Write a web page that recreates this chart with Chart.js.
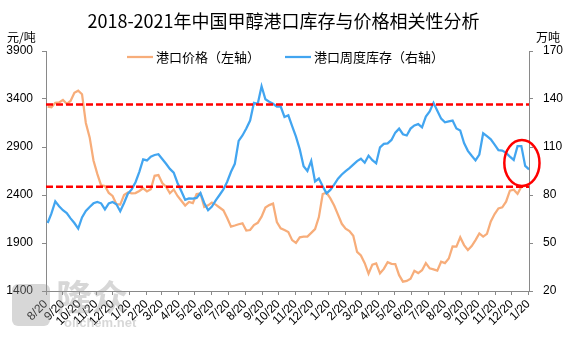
<!DOCTYPE html>
<html>
<head>
<meta charset="utf-8">
<script src="https://cdn.jsdelivr.net/npm/chart.js@4.4.1/dist/chart.umd.min.js"></script>
<style>
  html, body { margin: 0; padding: 0; background: #fff; }
  #wrap { width: 567px; height: 340px; }
</style>
</head>
<body>
<div id="wrap"><canvas id="chart" width="567" height="340"></canvas></div>
<script>
// x tick labels (month/day, every month from 2018-08-20 to 2021-01-20)
const monthLabels = [
  "8/20", "9/20", "10/20", "11/20", "12/20",
  "1/20", "2/20", "3/20", "4/20", "5/20", "6/20", "7/20", "8/20", "9/20", "10/20", "11/20", "12/20",
  "1/20", "2/20", "3/20", "4/20", "5/20", "6/20", "7/20", "8/20", "9/20", "10/20", "11/20", "12/20",
  "1/20"
];

// 港口价格 (元/吨), weekly
const priceValues = [
  3320, 3314, 3360, 3365, 3390, 3350, 3380, 3465, 3487, 3450,
  3150, 3000, 2760, 2620, 2500, 2494, 2422, 2390, 2305, 2300,
  2400, 2426, 2418, 2420, 2442, 2470, 2437, 2459, 2600, 2608,
  2525, 2487, 2418, 2457, 2390, 2340, 2290, 2328, 2315, 2410,
  2415, 2275, 2292, 2320, 2300, 2270, 2240, 2160, 2070, 2082,
  2095, 2105, 2030, 2035, 2087, 2110, 2174, 2270, 2295, 2310,
  2118, 2053, 2035, 2015, 1930, 1900, 1959, 1966, 1966, 2005,
  2045, 2170, 2410, 2425, 2365, 2290, 2195, 2100, 2050, 2025,
  1975, 1807, 1770, 1690, 1580, 1675, 1688, 1584, 1630, 1700,
  1683, 1681, 1565, 1497, 1505, 1527, 1610, 1587, 1617, 1690,
  1636, 1625, 1612, 1705, 1690, 1738, 1865, 1862, 1960, 1878,
  1827, 1868, 1930, 2000, 1966, 1995, 2125, 2202, 2260, 2272,
  2330, 2445, 2455, 2412, 2487, 2494, 2515
];

// 港口周度库存 (万吨), weekly
const stockValues = [
  62.5, 68.5, 76, 73, 70.5, 68.7, 65.4, 62.5, 59, 66,
  70, 72.5, 74.8, 75.7, 74.8, 71, 74.7, 75.6, 74.2, 69.8,
  75, 80.8, 83.5, 88, 94.5, 102.3, 101.6, 104, 105, 105.5,
  102.5, 99.5, 96.3, 94, 87.5, 82.3, 77, 77.9, 77.8, 78.2,
  81.2, 75, 70.5, 72.8, 76.6, 80, 83.5, 88.3, 94.5, 99.5,
  113.8, 117.2, 121.5, 126.5, 137.6, 137, 148, 139.8, 138.3, 137,
  135.2, 135.3, 128.8, 129.8, 123, 116.5, 108.5, 98, 95, 101.3,
  88.5, 90.3, 85.5, 81, 83.2, 86.5, 90.2, 92.8, 94.9, 96.8,
  99, 101.2, 102.7, 100.2, 104.6, 101.8, 99.8, 109.8, 112, 112.3,
  114.4, 119, 121.5, 118, 117.2, 121.5, 123.5, 124.3, 122.3, 129,
  132.2, 137.6, 132.6, 127.7, 125.4, 126, 126.5, 121.6, 120.3, 112.5,
  107.6, 104.5, 101.6, 105.3, 118.6, 116.8, 114.8, 111.5, 108, 107.8,
  106.3, 104, 101.9, 110.5, 110.6, 98.2, 96
];

// reference levels (万吨, right axis) and highlighted spot
const upperLevel = 136.5;
const lowerLevel = 85.2;
const circleDay = 872;
const circleLevel = 100;

// days since 2018-08-20; weekly data starts on 2018-08-23
const startDate = Date.UTC(2018, 7, 20);
const dayOf = (y, m, d) => (Date.UTC(y, m, d) - startDate) / 86400000;
const monthTicks = monthLabels.map((_, k) => dayOf(2018, 7 + k, 20));
const weekDays = priceValues.map((_, i) => 3 + 7 * i);
const xMax = 885;

const FONT = '"Liberation Sans", Arial, "Noto Sans CJK SC", sans-serif';
const CJK = '"Noto Sans CJK SC", "Liberation Sans", sans-serif';
const ORANGE = "#F7AD7A";
const BLUE = "#42A5F0";
const RED = "#FF0000";
const AXIS = "#898989";

const decor = {
  id: "decor",
  afterDraw(chart) {
    const { ctx, scales } = chart;
    ctx.save();

    // unit labels
    ctx.fillStyle = "#000";
    ctx.font = "12px " + CJK;
    ctx.textBaseline = "middle";
    ctx.textAlign = "left";
    ctx.fillText("元/吨", 7, 37);
    ctx.fillText("万吨", 536, 37);

    // legend inside the plot
    const items = [
      { ds: chart.data.datasets[0], x: 127 },
      { ds: chart.data.datasets[1], x: 285 }
    ];
    ctx.font = "13px " + CJK;
    items.forEach(it => {
      ctx.strokeStyle = it.ds.borderColor;
      ctx.lineWidth = 2.25;
      ctx.beginPath();
      ctx.moveTo(it.x, 57);
      ctx.lineTo(it.x + 26, 57);
      ctx.stroke();
      ctx.fillText(it.ds.label, it.x + 29, 57);
    });

    // red circle around the latest stock move
    const cx = scales.x.getPixelForValue(circleDay);
    const cy = scales.y1.getPixelForValue(circleLevel);
    ctx.strokeStyle = RED;
    ctx.lineWidth = 2.5;
    ctx.beginPath();
    ctx.ellipse(cx, cy, 17.6, 23, 0, 0, 2 * Math.PI);
    ctx.stroke();

    // watermark
    ctx.fillStyle = "rgba(150,150,150,0.38)";
    ctx.font = "bold 36px " + CJK;
    ctx.textBaseline = "alphabetic";
    ctx.fillText("隆众", 56, 311);
    ctx.font = "bold 13px " + FONT;
    ctx.fillText("oilchem.net", 64, 327);
    ctx.beginPath();
    ctx.roundRect(12, 284, 38, 42, 6);
    ctx.fill();

    ctx.restore();
  }
};

new Chart(document.getElementById("chart"), {
  type: "line",
  data: {
    datasets: [
      {
        label: "港口价格（左轴）",
        data: weekDays.map((d, i) => ({ x: d, y: priceValues[i] })),
        yAxisID: "y",
        borderColor: ORANGE,
        borderWidth: 2.25,
        pointRadius: 0,
        tension: 0,
        order: 3
      },
      {
        label: "港口周度库存（右轴）",
        data: weekDays.map((d, i) => ({ x: d, y: stockValues[i] })),
        yAxisID: "y1",
        borderColor: BLUE,
        borderWidth: 2.25,
        pointRadius: 0,
        tension: 0,
        order: 2
      },
      {
        label: "upper",
        data: [{ x: 0, y: upperLevel }, { x: xMax, y: upperLevel }],
        yAxisID: "y1",
        borderColor: RED,
        borderWidth: 2.5,
        borderDash: [7, 3],
        pointRadius: 0,
        order: 1
      },
      {
        label: "lower",
        data: [{ x: 0, y: lowerLevel }, { x: xMax, y: lowerLevel }],
        yAxisID: "y1",
        borderColor: RED,
        borderWidth: 2.5,
        borderDash: [7, 3],
        pointRadius: 0,
        order: 1
      }
    ]
  },
  options: {
    responsive: false,
    animation: false,
    devicePixelRatio: 1,
    layout: { padding: 0 },
    plugins: {
      legend: { display: false },
      tooltip: { enabled: false },
      title: {
        display: true,
        text: "2018-2021年中国甲醇港口库存与价格相关性分析",
        color: "#000",
        font: { size: 18, weight: "normal", family: CJK },
        padding: { top: 10, bottom: 19.4 }
      }
    },
    scales: {
      x: {
        type: "linear",
        min: 0,
        max: xMax,
        afterBuildTicks: s => { s.ticks = monthTicks.map(v => ({ value: v })); },
        afterFit: s => { s.height = 49; },
        ticks: {
          autoSkip: false,
          minRotation: 45,
          maxRotation: 45,
          padding: 2,
          color: "#000",
          font: { size: 12, family: FONT },
          callback: (v, i) => monthLabels[i]
        },
        grid: { drawOnChartArea: false, tickLength: 4, color: AXIS },
        border: { color: AXIS }
      },
      y: {
        position: "left",
        min: 1400,
        max: 3900,
        afterFit: s => { s.width = 46; },
        ticks: {
          stepSize: 500, padding: 9, color: "#000",
          font: { size: 12, family: FONT },
          callback: v => String(v)
        },
        grid: { drawOnChartArea: false, tickLength: 4, color: AXIS },
        border: { color: AXIS }
      },
      y1: {
        position: "right",
        min: 20,
        max: 170,
        afterFit: s => { s.width = 38; },
        ticks: {
          stepSize: 30, padding: 10, color: "#000",
          font: { size: 12, family: FONT },
          callback: v => String(v)
        },
        grid: { drawOnChartArea: false, tickLength: 4, color: AXIS },
        border: { color: AXIS }
      }
    }
  },
  plugins: [decor]
});
</script>
</body>
</html>
